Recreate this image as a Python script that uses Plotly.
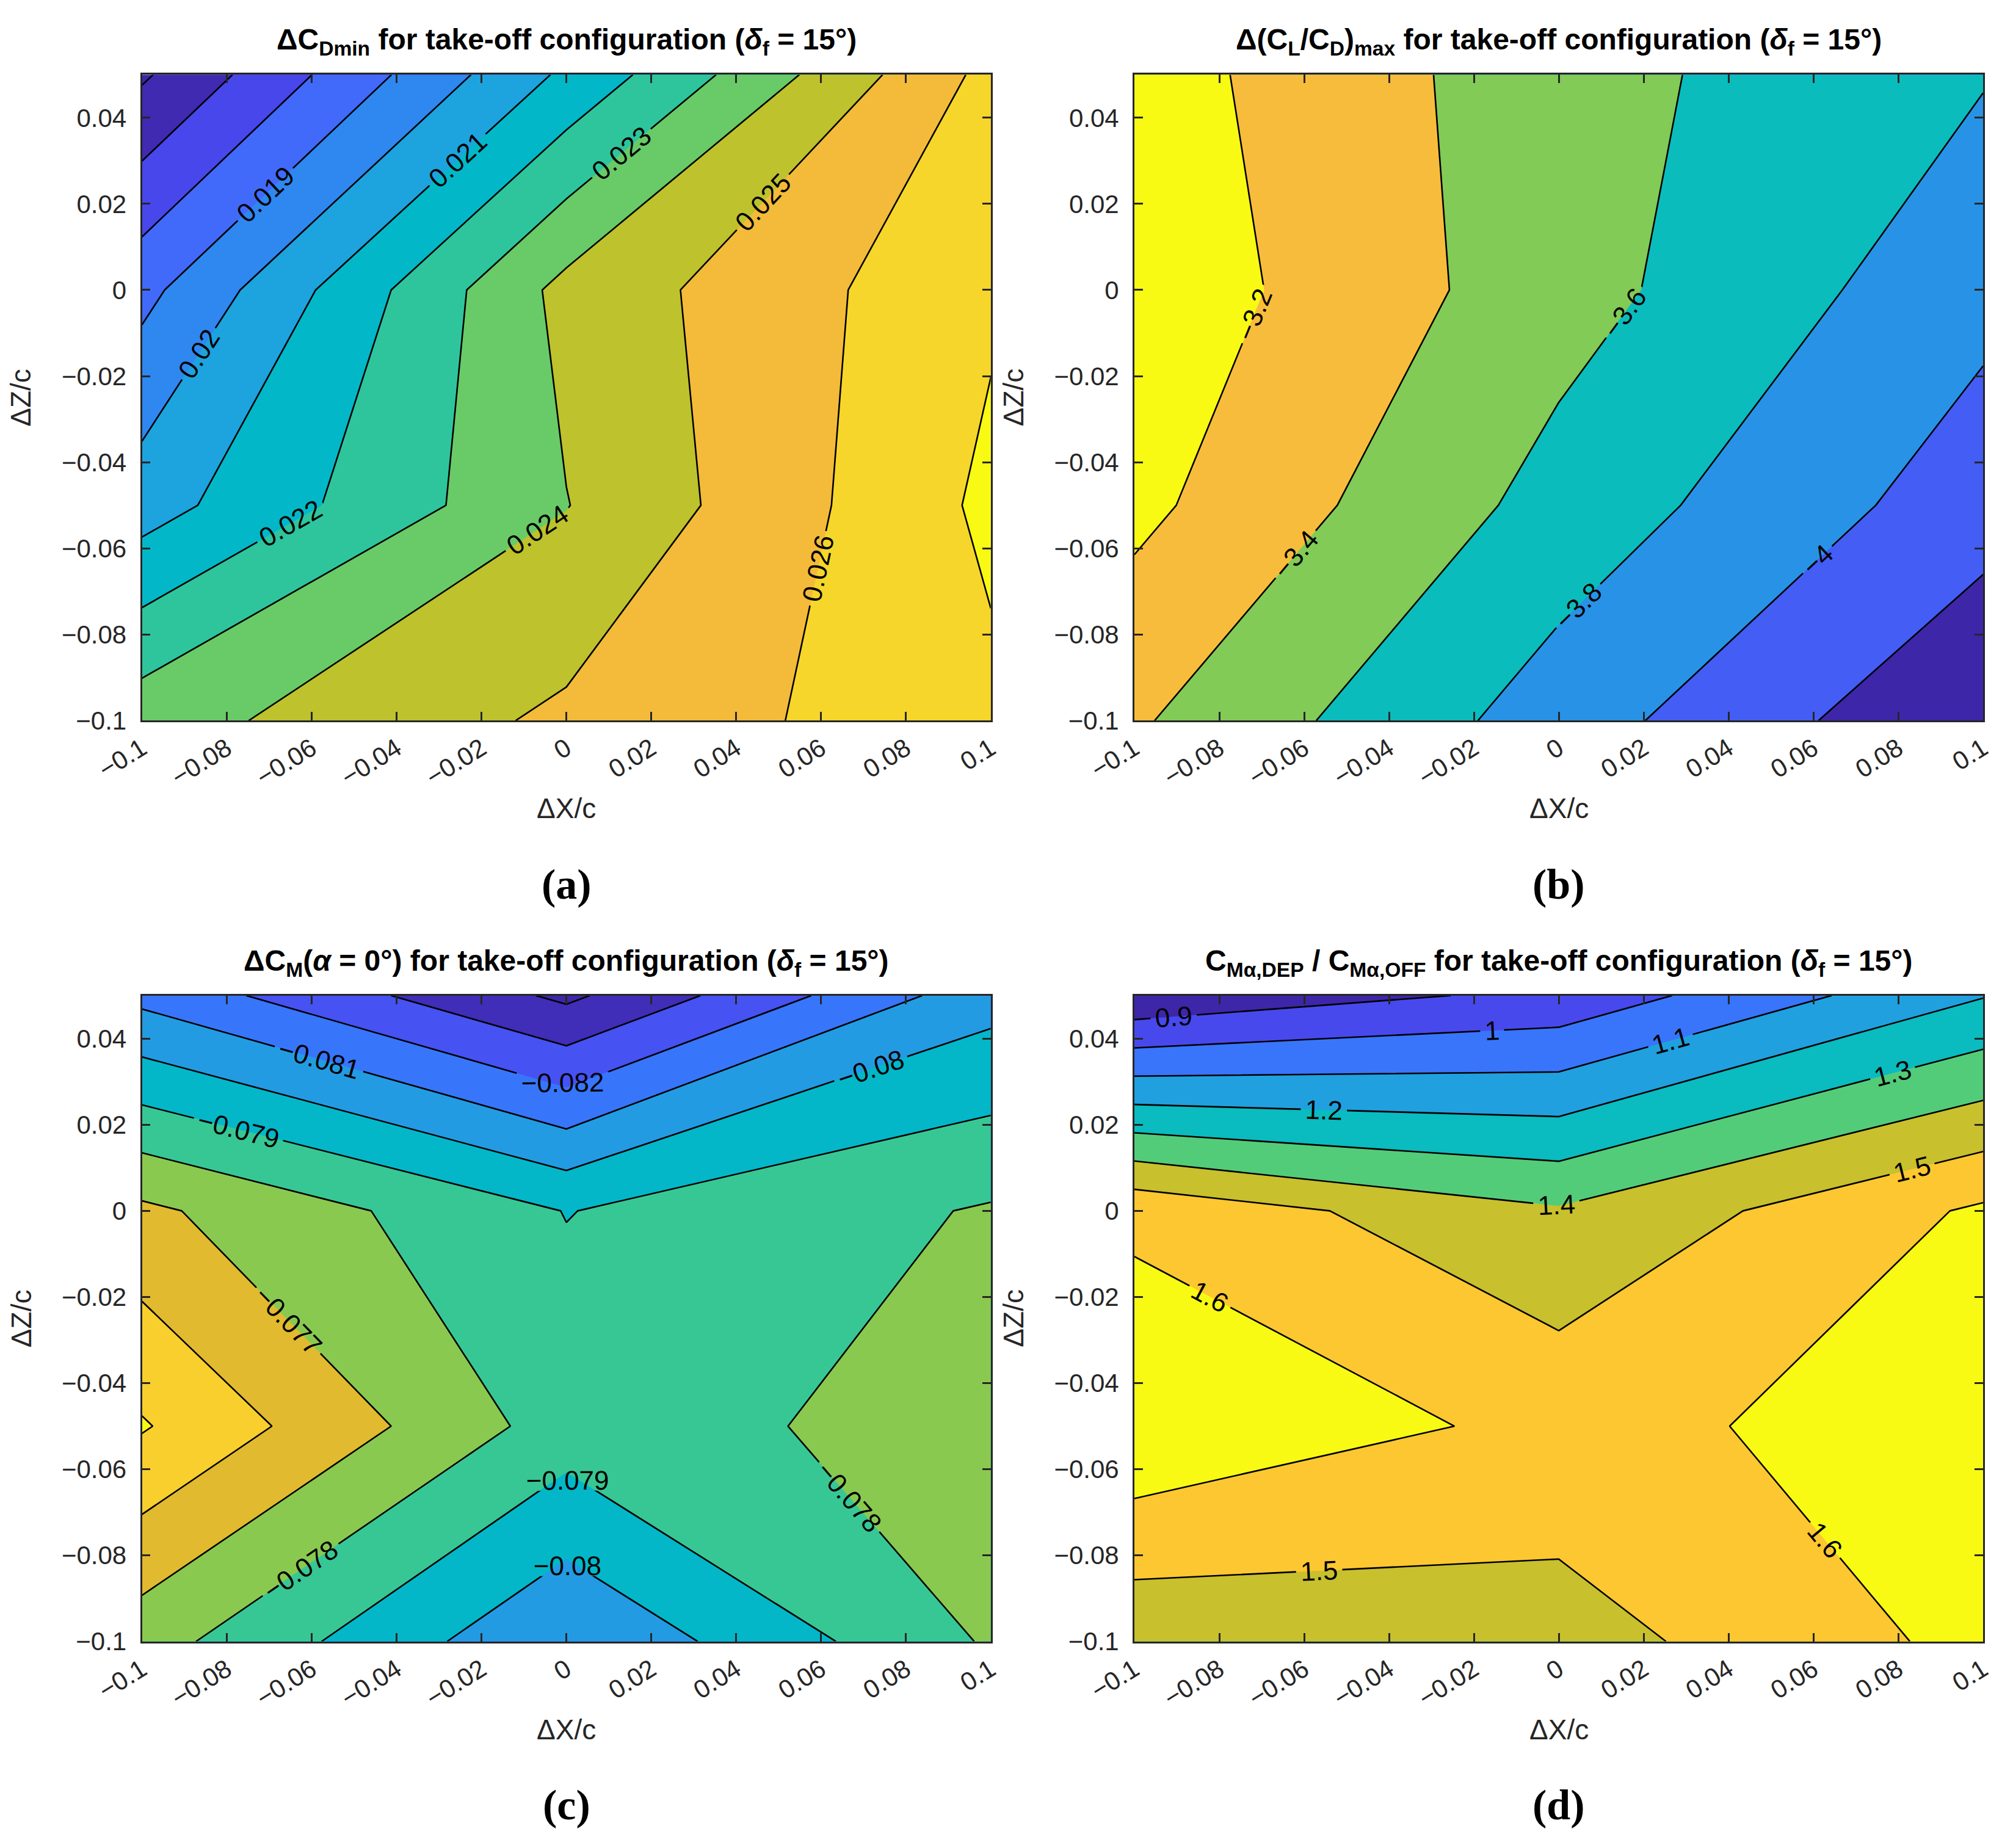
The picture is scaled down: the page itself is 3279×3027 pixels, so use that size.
import plotly.graph_objects as go

W, H = 3279, 3027

# ---------------- data ----------------
x_pos = [-0.1, 0.0, 0.1]            # ΔX/c grid
z_pos = [-0.1, -0.05, 0.0, 0.05]    # ΔZ/c grid (rows below follow this order)

cdmin_delta = [                      # (a) ΔC_Dmin
    [0.02360, 0.02519, 0.02676],
    [0.02055, 0.02397, 0.02722],
    [0.01870, 0.02432, 0.02685],
    [0.01586, 0.02120, 0.02630],
]
clcd_delta = [                       # (b) Δ(CL/CD)max
    [-3.375, -3.900, -4.390],
    [-3.148, -3.675, -4.110],
    [-3.060, -3.518, -3.940],
    [-3.106, -3.523, -3.787],
]
cm0_delta = [                        # (c) ΔCM(α=0°)
    [-0.07757, -0.08095, -0.07788],
    [-0.07491, -0.07847, -0.07757],
    [-0.07679, -0.07903, -0.07790],
    [-0.08128, -0.08421, -0.08038],
]
cma_ratio = [                        # (d) CMα,DEP / CMα,OFF
    [1.424, 1.456, 1.630],
    [1.689, 1.571, 1.643],
    [1.576, 1.411, 1.616],
    [0.815, 0.929, 1.195],
]

levels_a = [0.016, 0.017, 0.018, 0.019, 0.020, 0.021, 0.022, 0.023, 0.024, 0.025, 0.026, 0.027]
levels_b = [-4.2, -4.0, -3.8, -3.6, -3.4, -3.2]
levels_c = [-0.084, -0.083, -0.082, -0.081, -0.080, -0.079, -0.078, -0.077, -0.076, -0.075]
levels_d = [0.9, 1.0, 1.1, 1.2, 1.3, 1.4, 1.5, 1.6]

x_ticks = [-0.1, -0.08, -0.06, -0.04, -0.02, 0, 0.02, 0.04, 0.06, 0.08, 0.1]
x_ticktext = ["\u22120.1", "\u22120.08", "\u22120.06", "\u22120.04", "\u22120.02", "0",
              "0.02", "0.04", "0.06", "0.08", "0.1"]
z_ticks = [-0.1, -0.08, -0.06, -0.04, -0.02, 0, 0.02, 0.04]
z_ticktext = ["\u22120.1", "\u22120.08", "\u22120.06", "\u22120.04", "\u22120.02", "0", "0.02", "0.04"]

titles = [
    "<b>\u0394C<sub>Dmin</sub> for take-off configuration (<i>\u03b4</i><sub>f</sub> = 15\u00b0)</b>",
    "<b>\u0394(C<sub>L</sub>/C<sub>D</sub>)<sub>max</sub> for take-off configuration (<i>\u03b4</i><sub>f</sub> = 15\u00b0)</b>",
    "<b>\u0394C<sub>M</sub>(<i>\u03b1</i> = 0\u00b0) for take-off configuration (<i>\u03b4</i><sub>f</sub> = 15\u00b0)</b>",
    "<b>C<sub>M\u03b1,DEP</sub> / C<sub>M\u03b1,OFF</sub> for take-off configuration (<i>\u03b4</i><sub>f</sub> = 15\u00b0)</b>",
]
panel_letters = ["(a)", "(b)", "(c)", "(d)"]

# ---------------- style ----------------
PARULA = [
    (0.00, (62, 38, 168)),
    (0.10, (72, 70, 236)),
    (0.19, (65, 105, 250)),
    (0.24, (55, 118, 250)),
    (0.28, (47, 135, 240)),
    (0.33, (40, 148, 230)),
    (0.37, (30, 163, 222)),
    (0.46, (2, 184, 200)),
    (0.50, (12, 188, 188)),
    (0.56, (52, 199, 152)),
    (0.62, (84, 204, 120)),
    (0.66, (125, 203, 88)),
    (0.73, (190, 194, 45)),
    (0.78, (224, 186, 46)),
    (0.83, (248, 187, 60)),
    (0.87, (252, 198, 50)),
    (0.91, (246, 214, 42)),
    (1.00, (248, 250, 20)),
]


def cmap(t):
    t = min(max(t, 0.0), 1.0)
    for i in range(len(PARULA) - 1):
        t0, c0 = PARULA[i]
        t1, c1 = PARULA[i + 1]
        if t <= t1:
            f = (t - t0) / (t1 - t0)
            return tuple(int(round(c0[k] + (c1[k] - c0[k]) * f)) for k in range(3))
    return PARULA[-1][1]


def band_scale(levels, data):
    zmin = min(min(r) for r in data)
    top = levels[-1]
    cols = [cmap(0.0)] + [cmap((L - zmin) / (top - zmin)) for L in levels]
    n = len(levels)
    return [[j / n, "rgb(%d,%d,%d)" % c] for j, c in enumerate(cols)]


FONT = "Liberation Sans"
AX = "#262626"
TICK_SIZE = 42

# plot areas in pixels (left, right, top, bottom)
boxes = [
    (224.5, 1614.8, 114.3, 1172.3),
    (1850.0, 3240.0, 114.3, 1172.3),
    (224.5, 1614.8, 1622.7, 2680.7),
    (1850.0, 3240.0, 1622.7, 2680.7),
]

datasets = [cdmin_delta, clcd_delta, cm0_delta, cma_ratio]
levelsets = [levels_a, levels_b, levels_c, levels_d]

fig = go.Figure()
annotations = []

for i in range(4):
    data = datasets[i]
    lev = levelsets[i]
    step = round(lev[1] - lev[0], 6)
    xa = "x" if i == 0 else "x%d" % (i + 1)
    ya = "y" if i == 0 else "y%d" % (i + 1)
    fig.add_trace(go.Contour(
        x=x_pos, y=z_pos, z=data,
        contours=dict(start=lev[0], end=lev[-1], size=step, coloring="fill",
                      showlabels=True,
                      labelfont=dict(family=FONT, size=44, color="black")),
        line=dict(color="black", width=2.6, smoothing=0),
        colorscale=band_scale(lev, data),
        showscale=False, hoverinfo="skip",
        xaxis=xa, yaxis=ya,
    ))
    l, r, t, b = boxes[i]
    xdom = [l / W, r / W]
    ydom = [1 - b / H, 1 - t / H]
    common = dict(ticks="inside", ticklen=14, tickwidth=2.5, tickcolor=AX,
                  showline=True, linecolor=AX, linewidth=2.8, mirror="allticks",
                  showgrid=False, zeroline=False, automargin=False,
                  tickfont=dict(family=FONT, size=TICK_SIZE, color=AX))
    xkey = "xaxis" if i == 0 else "xaxis%d" % (i + 1)
    ykey = "yaxis" if i == 0 else "yaxis%d" % (i + 1)
    fig.update_layout(**{
        xkey: dict(domain=xdom, range=[-0.1, 0.1], anchor=ya,
                   tickmode="array", tickvals=x_ticks, ticktext=x_ticktext,
                   tickangle=-32, ticklabelstandoff=2, **common),
        ykey: dict(domain=ydom, range=[-0.1, 0.05], anchor=xa,
                   tickmode="array", tickvals=z_ticks, ticktext=z_ticktext,
                   ticklabelstandoff=14, **common),
    })
    cx = (l + r) / 2
    cy = (t + b) / 2
    annotations.append(dict(text=titles[i], x=cx / W, y=1 - (t - 54) / H,
                            xref="paper", yref="paper", showarrow=False,
                            xanchor="center", yanchor="middle",
                            font=dict(family=FONT, size=48, color="black")))
    annotations.append(dict(text="\u0394X/c", x=cx / W, y=1 - (b + 144) / H,
                            xref="paper", yref="paper", showarrow=False,
                            xanchor="center", yanchor="middle",
                            font=dict(family=FONT, size=46, color=AX)))
    annotations.append(dict(text="\u0394Z/c", x=(l - 198) / W, y=1 - cy / H,
                            xref="paper", yref="paper", showarrow=False,
                            textangle=-90, xanchor="center", yanchor="middle",
                            font=dict(family=FONT, size=46, color=AX)))
    annotations.append(dict(text="<b>%s</b>" % panel_letters[i], x=cx / W, y=1 - (b + 268) / H,
                            xref="paper", yref="paper", showarrow=False,
                            xanchor="center", yanchor="middle",
                            font=dict(family="Liberation Serif", size=70, color="black")))

fig.update_layout(width=W, height=H, margin=dict(l=0, r=0, t=0, b=0, pad=0),
                  paper_bgcolor="white", plot_bgcolor="white",
                  showlegend=False, annotations=annotations)

fig.write_html("out.html")
